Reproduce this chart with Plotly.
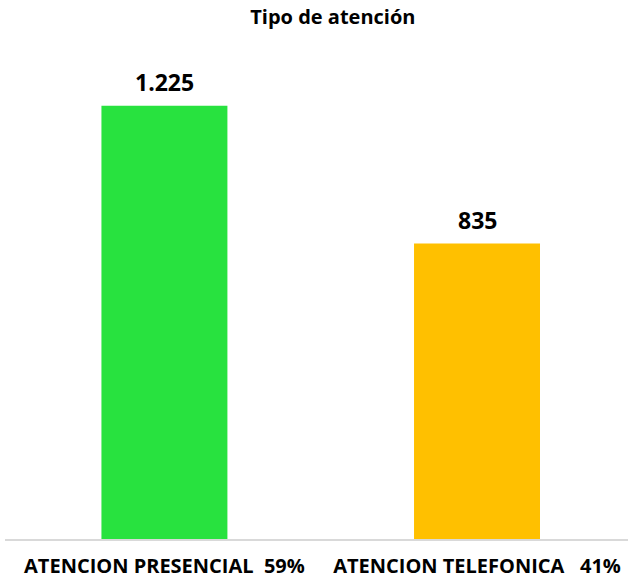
import plotly.graph_objects as go

# datos
categorias = ["ATENCION PRESENCIAL  59%", "ATENCION TELEFONICA   41%"]
valores = [1225, 835]
colores = ["#28e23f", "#ffc000"]

fuente = "Open Sans"

fig = go.Figure()
fig.add_trace(go.Bar(
    x=categorias, y=valores,
    marker=dict(color=colores, line=dict(width=0)),
    width=0.403,
))

# etiquetas de valor sobre las barras
for c, v in zip(categorias, valores):
    fig.add_annotation(
        x=c, y=v, text="<b>" + f"{v:,}".replace(",", ".") + "</b>",
        showarrow=False, yanchor="bottom", yshift=6,
        font=dict(family=fuente, size=23, color="#000000"),
    )

fig.update_layout(
    width=628, height=581,
    margin=dict(l=5, r=0, t=60, b=41.5),
    paper_bgcolor="white", plot_bgcolor="white",
    showlegend=False,
    title=dict(
        text="<b>Tipo de atención</b>",
        x=0.53, xanchor="center", y=0.982, yanchor="top",
        font=dict(family=fuente, size=20, color="#000000"),
    ),
    xaxis=dict(
        type="category", range=[-0.51, 1.483], automargin=False,
        showline=True, linecolor="#d9d9d9", linewidth=1.5,
        ticks="", ticklabelstandoff=8,
        tickfont=dict(family=fuente, size=20, color="#000000", weight="bold"),
    ),
    yaxis=dict(
        range=[0, 1354], visible=False, showgrid=False, zeroline=False,
    ),
)

fig.write_html("out.html", config={"displayModeBar": False},
               post_script="document.body.style.margin='0';")
